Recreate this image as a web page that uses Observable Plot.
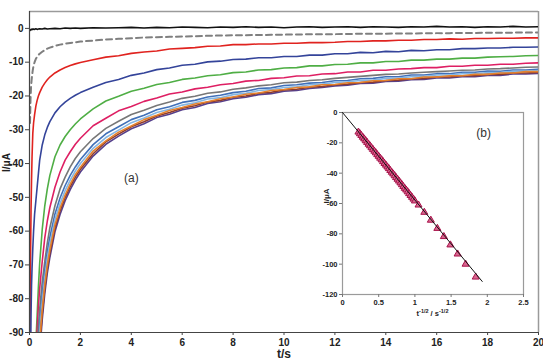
<!DOCTYPE html>
<html>
<head>
<meta charset="utf-8">
<script src="https://cdn.jsdelivr.net/npm/d3@7"></script>
<script src="https://cdn.jsdelivr.net/npm/@observablehq/plot@0.6"></script>
<style>
  body { margin: 0; background: #fff; }
  #wrap { position: relative; width: 543px; height: 362px; overflow: hidden; font-family: "Liberation Sans", Arial, sans-serif; }
  #inset { position: absolute; left: 318px; top: 100px; background: #fff; line-height: 0; }
  #main { line-height: 0; }
</style>
</head>
<body>
<div id="wrap"><div id="main"></div><div id="inset"></div></div>
<script>
// Sampling times (s) shared by every chronoamperogram
const T = [0.02,0.04,0.06,0.08,0.1,0.13,0.16,0.2,0.25,0.3,0.35,0.4,0.5,0.6,0.7,0.8,1.0,1.2,1.4,1.6,1.8,2.0,
  2.5,3,3.5,4,4.5,5,5.5,6,6.5,7,7.5,8,8.5,9,9.5,10,10.5,11,11.5,12,12.5,13,13.5,14,14.5,15,15.5,16,16.5,17,17.5,18,18.5,19,19.5,20];

// Current (µA) for each trace
const iBlank = [-0.6,-0.4,-0.3,-0.4,-0.2,-0.3,-0.2,-0.3,-0.1,-0.3,-0.2,-0.1,-0.2,0.0,-0.2,-0.1,0.0,-0.1,0.1,0.0,0.1,0.0,
  0.2,0.1,0.2,0.3,0.1,0.3,0.2,0.4,0.3,0.2,0.4,0.3,0.5,0.3,0.4,0.2,0.4,0.5,0.3,0.4,0.5,0.3,0.5,0.4,0.3,0.5,0.4,0.6,0.4,0.5,0.3,0.5,0.4,0.6,0.4,0.5];
const iDashed = [-28,-21,-17.5,-15.5,-14,-12.3,-11,-10,-9,-8.4,-7.9,-7.5,-6.9,-6.4,-6.0,-5.7,-5.2,-4.8,-4.5,-4.3,-4.1,-3.9,
  -3.6,-3.3,-3.1,-2.9,-2.7,-2.6,-2.5,-2.4,-2.3,-2.2,-2.1,-2.05,-2.0,-1.95,-1.9,-1.85,-1.8,-1.75,-1.7,-1.7,
  -1.65,-1.6,-1.6,-1.55,-1.5,-1.5,-1.45,-1.4,-1.4,-1.35,-1.35,-1.3,-1.3,-1.25,-1.25,-1.2];
const iRed = [-95,-68,-54,-45,-38,-31,-28,-25.5,-23,-21.3,-20,-19,-17.4,-16.2,-15.2,-14.4,-13.2,-12.3,-11.6,-11,-10.5,-10.1,
  -9.3,-8.5,-8.1,-7.4,-7.0,-6.7,-6.1,-5.9,-5.7,-5.3,-5.2,-4.8,-4.8,-4.6,-4.6,-4.4,-4.4,-4.2,-4.2,-4.1,
  -3.9,-3.9,-3.7,-3.7,-3.5,-3.5,-3.3,-3.3,-3.1,-3.2,-3.0,-3.0,-2.9,-2.9,-2.8,-2.8];
const iNavy = [-140,-100,-85,-76,-71,-65,-60,-55,-51,-47,-43,-39,-34.5,-31.5,-29.3,-27.6,-25,-23.2,-21.8,-20.7,-19.8,-19,
  -17.4,-16.0,-15.1,-13.9,-13.2,-12.2,-11.7,-10.9,-10.6,-9.9,-9.7,-9.2,-9.1,-8.7,-8.7,-8.3,-8.3,-7.9,-7.9,-7.5,
  -7.5,-7.1,-7.2,-6.8,-6.9,-6.5,-6.6,-6.3,-6.3,-6.0,-6.0,-5.8,-5.8,-5.6,-5.6,-5.5];
const iGreen = [-290,-205,-168,-146,-131,-118,-109,-101,-93,-85,-76.5,-69.5,-59.5,-52.5,-47.5,-43.5,-38,-34.5,-32,-30,-28.3,-26.8,
  -23.8,-21.5,-20.1,-18.6,-17.7,-16.6,-16.0,-15.1,-14.7,-14.0,-13.7,-13.1,-12.9,-12.3,-12.2,-11.7,-11.6,-11.1,-11.1,-10.7,
  -10.6,-10.2,-10.2,-9.8,-9.8,-9.4,-9.4,-9.1,-9.1,-8.8,-8.8,-8.5,-8.4,-8.3,-8.1,-8.0];
const iPink = [-330,-235,-192,-166,-148,-130,-117,-105,-97,-89,-82,-77,-69,-62,-57,-53,-47,-42.5,-39,-36.5,-34.3,-32.5,
  -28.8,-26.6,-24.4,-23.1,-21.6,-20.6,-19.4,-18.8,-17.9,-17.4,-16.7,-16.3,-15.6,-15.4,-14.8,-14.6,-14.1,-14.0,-13.5,-13.4,
  -12.9,-12.9,-12.4,-12.4,-12.0,-11.9,-11.6,-11.6,-11.2,-11.2,-10.9,-10.9,-10.6,-10.6,-10.3,-10.2];
const iGray = [-355,-252,-206,-179,-160,-141,-127,-114,-103,-95,-88,-83,-75,-69,-63.5,-59,-52.5,-47.5,-44,-41,-38.5,-36.5,
  -32.6,-29.6,-27.5,-25.5,-24.2,-22.8,-21.8,-20.7,-20.1,-19.2,-18.8,-18.0,-17.6,-17.0,-16.7,-16.1,-15.9,-15.4,-15.2,-14.8,
  -14.5,-14.2,-13.9,-13.6,-13.5,-13.2,-13.0,-12.8,-12.6,-12.4,-12.3,-12.0,-11.9,-11.7,-11.5,-11.4];
const iSteel = [-380,-272,-223,-193,-173,-152,-137,-124,-111,-101,-93.5,-87.5,-78.6,-71.6,-66,-61.8,-54.9,-50.2,-46.5,-43.5,-41,-38.8,
  -34.4,-31.2,-29.1,-27.0,-25.7,-24.1,-23.2,-21.9,-21.3,-20.3,-19.8,-19.0,-18.6,-17.8,-17.6,-16.9,-16.7,-16.2,-16.0,-15.5,
  -15.4,-14.9,-14.8,-14.3,-14.3,-13.8,-13.8,-13.4,-13.4,-13.0,-13.0,-12.6,-12.7,-12.3,-12.3,-12.1];
const iSky = [-394,-280,-230,-200,-179,-157,-142,-128,-114,-104,-96.5,-90,-81,-74,-68,-63.8,-56.6,-51.8,-48,-44.9,-42.2,-40,
  -35.5,-32.3,-30.1,-27.9,-26.5,-24.9,-23.9,-22.7,-22.0,-20.9,-20.5,-19.6,-19.2,-18.4,-18.1,-17.5,-17.3,-16.7,-16.5,-16.0,
  -15.8,-15.4,-15.3,-14.8,-14.7,-14.3,-14.2,-13.8,-13.8,-13.4,-13.4,-13.1,-13.1,-12.7,-12.7,-12.5];
const iPurple = [-418,-298,-245,-212,-190,-167,-151,-136,-121,-111,-102.5,-96,-86.2,-78.5,-72.4,-67.8,-60.2,-55.1,-51,-47.7,-44.9,-42.5,
  -37.8,-34.3,-31.9,-29.7,-28.2,-26.4,-25.4,-24.1,-23.4,-22.2,-21.7,-20.8,-20.4,-19.6,-19.3,-18.6,-18.4,-17.8,-17.5,-17.0,
  -16.8,-16.3,-16.2,-15.7,-15.6,-15.2,-15.1,-14.7,-14.7,-14.3,-14.3,-13.9,-13.9,-13.5,-13.5,-13.3];
const iBrown = [-410,-292,-240,-208,-186,-164,-148,-133,-119,-108.5,-100.5,-94,-84.5,-77,-71,-66.5,-59,-54,-50,-46.8,-44,-41.7,
  -37.1,-33.6,-31.3,-29.1,-27.6,-25.9,-24.9,-23.6,-22.9,-21.8,-21.3,-20.4,-20.0,-19.2,-18.9,-18.2,-18.0,-17.4,-17.2,-16.7,
  -16.5,-16.0,-15.9,-15.4,-15.3,-14.9,-14.8,-14.4,-14.4,-14.0,-14.0,-13.6,-13.6,-13.2,-13.2,-13.0];
const iOrange = [-404,-288,-236,-205,-183,-161,-146,-131,-117,-107,-99,-92.6,-83.2,-75.8,-70,-65.5,-58.1,-53.2,-49.3,-46.1,-43.3,-41.1,
  -36.3,-33.3,-30.7,-28.9,-27.0,-25.7,-24.3,-23.4,-22.4,-21.7,-20.8,-20.3,-19.5,-19.1,-18.4,-18.1,-17.5,-17.3,-16.7,-16.6,
  -16.1,-16.0,-15.5,-15.4,-14.9,-14.9,-14.4,-14.4,-14.0,-14.0,-13.6,-13.6,-13.2,-13.2,-12.8,-12.8];

// Inset (b): t^-1/2 (s^-1/2) and current (µA) of the Cottrell plot
const cottrellX = [0.22,0.24,0.26,0.28,0.30,0.32,0.34,0.36,0.38,0.40,0.42,0.44,0.46,0.48,0.50,0.52,0.54,0.56,0.58,0.60,
  0.62,0.64,0.66,0.68,0.70,0.72,0.74,0.76,0.78,0.80,0.82,0.84,0.86,0.88,0.90,0.92,0.94,0.96,0.98,1.00,
  1.05,1.13,1.22,1.31,1.40,1.49,1.59,1.70,1.84];
const cottrellI = [-12.9,-14.0,-15.1,-16.3,-17.4,-18.6,-19.7,-20.9,-22.0,-23.2,-24.3,-25.5,-26.6,-27.8,-28.9,-30.1,-31.2,-32.4,-33.6,-34.7,
  -35.9,-37.0,-38.2,-39.4,-40.5,-41.7,-42.9,-44.0,-45.2,-46.4,-47.6,-48.8,-50.0,-51.1,-52.3,-53.5,-54.7,-55.9,-57.1,-58.3,
  -61.0,-65.8,-71.0,-76.4,-81.8,-87.3,-93.3,-100.0,-108.5];

// Cottrell fit line of the inset
const fitX = [0, 1.93];
const fitI = [0, -111.4];

// Axis ticks
const xTicks = [0,2,4,6,8,10,12,14,16,18,20];
const yTicks = [0,-10,-20,-30,-40,-50,-60,-70,-80,-90];
const insetXTicks = [0,0.5,1,1.5,2,2.5];
const insetYTicks = [0,-20,-40,-60,-80,-100,-120];

// Panel labels
const panelA = {t: 4.0, I: -44.4, label: "(a)"};
const panelB = {x: 1.95, I: -13.5, label: "(b)"};

const traces = [
  {values: iBlank,  color: "#111111", width: 1.6},
  {values: iDashed, color: "#7f7f7f", width: 2, dash: "6,4"},
  {values: iRed,    color: "#e0231f", width: 1.6},
  {values: iNavy,   color: "#34449a", width: 1.6},
  {values: iGreen,  color: "#4fae45", width: 1.6},
  {values: iPink,   color: "#de1f63", width: 1.6},
  {values: iGray,   color: "#777777", width: 1.6},
  {values: iSteel,  color: "#4170b8", width: 1.6},
  {values: iSky,    color: "#86b6e2", width: 1.6},
  {values: iPurple, color: "#56408c", width: 1.6},
  {values: iBrown,  color: "#8e3b2c", width: 1.6},
  {values: iOrange, color: "#e5822d", width: 1.6}
];

const fmt = d => String(d);
const font = '"Liberation Sans", Arial, sans-serif';

const lineMarks = traces.map(s => Plot.line(T.map((t, i) => ({t, I: s.values[i]})), {
  x: "t", y: "I", stroke: s.color, strokeWidth: s.width,
  strokeDasharray: s.dash, clip: true, curve: "linear"
}));

const main = Plot.plot({
  width: 543, height: 362,
  marginLeft: 29, marginRight: 5, marginTop: 11, marginBottom: 30,
  x: {domain: [0, 20]},
  y: {domain: [-90, 5]},
  style: {fontFamily: font, fontSize: "10px", fontWeight: "bold", color: "#222", background: "transparent", overflow: "visible"},
  marks: [
    Plot.ruleY([5], {stroke: "#9a9a9a", strokeWidth: 1.5}),
    Plot.ruleX([20], {stroke: "#9a9a9a", strokeWidth: 1.5}),
    ...lineMarks,
    Plot.ruleX([0], {stroke: "#444", strokeWidth: 1.2}),
    Plot.ruleY([-90], {stroke: "#444", strokeWidth: 1.2}),
    Plot.axisX({ticks: xTicks, tickFormat: fmt, tickSize: 3, tickPadding: 3, label: null, stroke: "#444"}),
    Plot.axisY({ticks: yTicks, tickFormat: fmt, tickSize: 4, tickPadding: 2, label: null, stroke: "#444"}),
    Plot.text(["t/s"], {text: d => d, frameAnchor: "bottom", dy: 25, fontSize: 12, fontWeight: "bold"}),
    Plot.text(["I/μA"], {text: d => d, frameAnchor: "left", dx: -23, rotate: -90, fontSize: 10, fontWeight: "bold"}),
    Plot.text([panelA], {x: "t", y: "I", text: "label", fontSize: 12, fontWeight: "normal", fill: "#333"})
  ]
});
document.getElementById("main").append(main);

const insetPts = cottrellX.map((x, i) => ({x, I: cottrellI[i]}));
const fitRows = fitX.map((x, i) => ({x, I: fitI[i]}));

const inset = Plot.plot({
  width: 215, height: 220,
  marginLeft: 24, marginRight: 10, marginTop: 12, marginBottom: 26,
  x: {domain: [0, 2.5]},
  y: {domain: [-120, 0]},
  style: {fontFamily: font, fontSize: "7.5px", fontWeight: "bold", color: "#222", background: "#fff", overflow: "visible"},
  marks: [
    Plot.frame({stroke: "#9a9a9a", strokeWidth: 1.2}),
    Plot.axisX({ticks: insetXTicks, tickFormat: fmt, tickSize: 3, tickPadding: 2, label: null, stroke: "#777"}),
    Plot.axisY({ticks: insetYTicks, tickFormat: fmt, tickSize: 3, tickPadding: 2, label: null, stroke: "#777"}),
    Plot.dot(insetPts, {x: "x", y: "I", symbol: "triangle", r: 2.6, stroke: "#a8124a", fill: "#d9668f", strokeWidth: 1}),
    Plot.line(fitRows, {x: "x", y: "I", stroke: "#111", strokeWidth: 1}),
    Plot.text([panelB], {x: "x", y: "I", text: "label", fontSize: 12, fontWeight: "normal", fill: "#333"}),
    Plot.text(["I/μA"], {text: d => d, frameAnchor: "left", dx: -16, rotate: -90, fontSize: 8, fontWeight: "bold"})
  ]
});
document.getElementById("inset").append(inset);

// x label of the inset with superscripts
const sx = inset.scale("x");
const lab = d3.select(inset).append("text")
  .attr("x", sx.apply(1.25)).attr("y", 216)
  .attr("text-anchor", "middle")
  .attr("font-family", font).attr("font-size", 7.5).attr("font-weight", "bold").attr("fill", "#222");
lab.append("tspan").text("t");
lab.append("tspan").attr("dy", -3).attr("font-size", 5.5).text("-1/2");
lab.append("tspan").attr("dy", 3).text(" / s");
lab.append("tspan").attr("dy", -3).attr("font-size", 5.5).text("-1/2");
</script>
</body>
</html>
